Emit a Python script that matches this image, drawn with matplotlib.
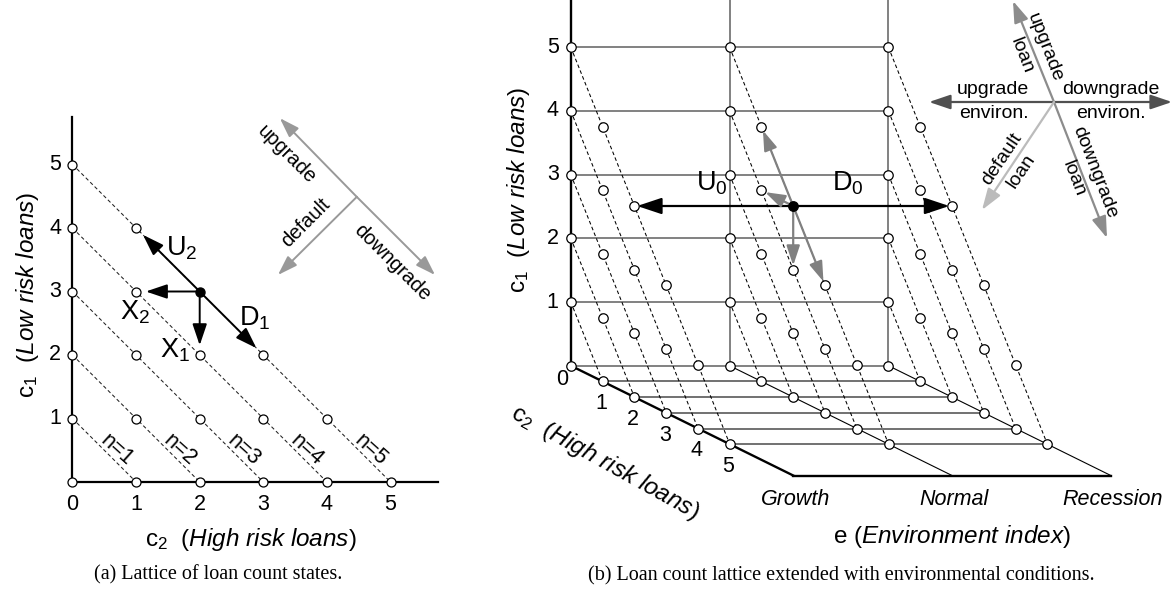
import matplotlib
matplotlib.use('Agg')
import matplotlib.pyplot as plt

plt.rcParams['font.family'] = ['Liberation Sans', 'DejaVu Sans']
plt.rcParams['mathtext.fontset'] = 'custom'
plt.rcParams['mathtext.rm'] = 'Liberation Sans'
plt.rcParams['mathtext.it'] = 'Liberation Sans:italic'
plt.rcParams['mathtext.bf'] = 'Liberation Sans:bold'

# ---- data ----
counts = [0, 1, 2, 3, 4, 5]        # loan counts shown on the c1 / c2 axes
totals = [1, 2, 3, 4, 5]           # n = c1 + c2 (diagonals)
envs = ['Growth', 'Normal', 'Recession']
env_idx = [0, 1, 2]
n_max = 5
# states (c2, c1) of the lattice: c1 + c2 <= 5
states = [(c2, c1) for c2 in counts for c1 in counts if c1 + c2 <= n_max]

cur_a = (2, 3)                     # (c2, c1)
moves_a = ['U$_2$', 'D$_1$', 'X$_2$', 'X$_1$']
targets_a = [(1, 4), (3, 2), (1, 3), (2, 2)]

cur_b = (1, 2, 3)                  # (e, c2, c1)
moves_b = ['U$_0$', 'D$_0$']
targets_b = [(0, 2, 3), (2, 2, 3)]
loan_targets_b = [(1, 1, 4), (1, 3, 2), (1, 1, 3), (1, 2, 2)]

W, H = 1173, 592
fig = plt.figure(figsize=(W / 100, H / 100), dpi=100)

GRAY = '#6c6c6c'
dash = (0, (3.5, 2.5))

def head(l, w):
    return '-|>,head_length=%s,head_width=%s' % (l, w)

# =============== (a) ===============
ax = fig.add_axes([0, 0, 0.5, 1])
ox, oy, sx, sy = 72.5, 482, 63.6, 63.5     # pixel origin / scale
ax.set_xlim(-ox / sx, (W / 2 - ox) / sx)
ax.set_ylim((oy - H) / sy, oy / sy)
ax.axis('off')

ax.plot([0, 0], [0, 5.75], color='k', lw=1.6, zorder=2)
ax.plot([0, 5.75], [0, 0], color='k', lw=1.6, zorder=2)
for n in totals:
    ax.plot([0, n], [n, 0], color='#222222', lw=0.75, ls=dash, zorder=1)
    ax.text(n - 0.31, 0.5, 'n=%d' % n, fontsize=15.5, rotation=-42,
            ha='center', va='center', rotation_mode='anchor')
for c2, c1 in states:
    if (c2, c1) == cur_a:
        continue
    ax.plot(c2, c1, 'o', ms=6.5, mfc='white', mec='k', mew=0.9, zorder=4)
ax.plot(*cur_a, 'o', ms=6.5, color='k', zorder=5)

lab_off_a = [(-0.28, 0.68), (0.87, -0.42), (-1.02, -0.32), (-0.38, -0.93)]
for lab, tgt, off in zip(moves_a, targets_a, lab_off_a):
    ax.annotate('', xy=tgt, xytext=cur_a,
                arrowprops=dict(arrowstyle=head(0.65, 0.22), color='k', lw=1.4,
                                shrinkA=0, shrinkB=7, mutation_scale=20), zorder=3)
    ax.text(cur_a[0] + off[0], cur_a[1] + off[1], lab, fontsize=19.5,
            ha='center', va='center')

for v in counts:
    ax.text(v, -0.36, str(v), fontsize=15.5, ha='center', va='center')
    if v > 0:
        ax.text(-0.27, v, str(v), fontsize=15.5, ha='center', va='center')
ax.text(-0.70, 2.94, r'c$_1$  ($\mathit{Low\ risk\ loans}$)', fontsize=17.5,
        rotation=90, ha='center', va='center')
ax.text(2.80, -0.91, r'c$_2$  ($\mathit{High\ risk\ loans}$)', fontsize=17.5,
        ha='center', va='center')
ax.text(2.29, -1.46, '(a) Lattice of loan count states.', fontsize=14.5,
        family='Liberation Serif', ha='center', va='center')

# compass (a)
cgray = '#999999'
jc = (4.47, 4.49)
for tip in [(3.26, 5.73), (5.70, 3.26), (3.23, 3.26)]:
    ax.annotate('', xy=tip, xytext=jc,
                arrowprops=dict(arrowstyle=head(0.6, 0.2), color=cgray, lw=1.4,
                                shrinkA=0, shrinkB=0, mutation_scale=20))
ax.text(3.37, 5.16, 'upgrade', fontsize=14.5, rotation=-45, ha='center', va='center')
ax.text(5.02, 3.45, 'downgrade', fontsize=14.5, rotation=-45, ha='center', va='center')
ax.text(3.66, 4.08, 'default', fontsize=14.5, rotation=45, ha='center', va='center')

# =============== (b) ===============
bx = fig.add_axes([0, 0, 1, 1])
bx.set_xlim(0, W)
bx.set_ylim(H, 0)
bx.axis('off')
bx.patch.set_alpha(0)

def proj(e, c2, c1):
    # oblique projection of (environment, c2, c1) onto the page
    return 570.8 + 158.8 * e + 31.8 * c2, 365.7 - 63.7 * c1 + 15.7 * c2

def seg(p, q, **kw):
    (x0, y0), (x1, y1) = proj(*p), proj(*q)
    bx.plot([x0, x1], [y0, y1], **kw)

top = 365.7 / 63.7
depth = 7
for e in env_idx:
    if e == 0:
        seg((e, 0, 0), (e, 0, top), color='k', lw=1.7, zorder=2)
        seg((e, 0, 0), (e, depth, 0), color='k', lw=1.7, zorder=2)
    else:
        seg((e, 0, 0), (e, 0, top), color=GRAY, lw=1.2, zorder=1)
        seg((e, 0, 0), (e, depth, 0), color='k', lw=0.8, zorder=1)
for c1 in counts:
    seg((0, 0, c1), (2, 0, c1), color=GRAY, lw=1.2, zorder=1)
for c2 in counts[1:]:
    seg((0, c2, 0), (2, c2, 0), color='#4a4a4a', lw=1.1, zorder=1)
seg((0, depth, 0), (2, depth, 0), color='k', lw=1.7, zorder=2)

for e in env_idx:
    for n in totals:
        seg((e, 0, n), (e, n, 0), color='k', lw=0.75, ls=dash, zorder=1)
    for c2, c1 in states:
        if (e, c2, c1) == cur_b:
            continue
        x, y = proj(e, c2, c1)
        bx.plot(x, y, 'o', ms=6.8, mfc='white', mec='k', mew=0.9, zorder=4)
bx.plot(*proj(*cur_b), 'o', ms=6.8, color='k', zorder=6)

for tgt in targets_b:
    bx.annotate('', xy=proj(*tgt), xytext=proj(*cur_b),
                arrowprops=dict(arrowstyle=head(0.75, 0.25), color='k', lw=1.6,
                                shrinkA=0, shrinkB=2, mutation_scale=20), zorder=5)
for tgt in loan_targets_b:
    bx.annotate('', xy=proj(*tgt), xytext=proj(*cur_b),
                arrowprops=dict(arrowstyle=head(0.6, 0.2), color='#808080', lw=1.6,
                                shrinkA=0, shrinkB=3, mutation_scale=20), zorder=5)
bx.text(712, 183, moves_b[0], fontsize=19.5, ha='center', va='center')
bx.text(848, 183, moves_b[1], fontsize=19.5, ha='center', va='center')

# ticks (b)
for v in counts[1:]:
    x, y = proj(0, 0, v)
    bx.text(x - 18, y, str(v), fontsize=15.5, ha='center', va='center')
for v in counts:
    x, y = proj(0, v, 0)
    if v == 0:
        bx.text(x - 9, y + 14, '0', fontsize=15.5, ha='center', va='center')
    else:
        bx.text(x - 1.5, y + 22.5, str(v), fontsize=15.5, ha='center', va='center')
for e, name in zip(env_idx, envs):
    x, y = proj(e, depth, 0)
    bx.text(x + 2, y + 24, name, fontsize=15.5, style='italic',
            ha='center', va='center')

bx.text(518, 190, r'c$_1$  ($\mathit{Low\ risk\ loans}$)', fontsize=17.5,
        rotation=90, ha='center', va='center')
bx.text(605, 462, r'c$_2$  ($\mathit{High\ risk\ loans}$)', fontsize=17.5,
        rotation=-29, ha='center', va='center', rotation_mode='anchor')
bx.text(952, 537, r'e ($\mathit{Environment\ index}$)', fontsize=17.5,
        ha='center', va='center')
bx.text(841, 576, '(b) Loan count lattice extended with environmental conditions.',
        fontsize=14.5, family='Liberation Serif', ha='center', va='center')

# compass (b)
cb = (1054, 102)
for tip, col in [((929, 102), '#505050'), ((1172, 102), '#505050'),
                 ((1013, 1), '#8c8c8c'), ((1107, 238), '#8c8c8c'),
                 ((982, 210), '#bbbbbb')]:
    bx.annotate('', xy=tip, xytext=cb,
                arrowprops=dict(arrowstyle=head(0.65, 0.22), color=col, lw=1.6,
                                shrinkA=0, shrinkB=0, mutation_scale=20))
bx.text(992.5, 89, 'upgrade', fontsize=14, ha='center', va='center')
bx.text(993.5, 114, 'environ.', fontsize=14, ha='center', va='center')
bx.text(1110.5, 89, 'downgrade', fontsize=14, ha='center', va='center')
bx.text(1111, 114, 'environ.', fontsize=14, ha='center', va='center')
bx.text(1045, 48, 'upgrade', fontsize=14, rotation=-68.8, ha='center', va='center')
bx.text(1022, 56, 'loan', fontsize=14, rotation=-68.8, ha='center', va='center')
bx.text(1095, 172, 'downgrade', fontsize=14, rotation=-68.8, ha='center', va='center')
bx.text(1074, 179, 'loan', fontsize=14, rotation=-68.8, ha='center', va='center')
bx.text(1002, 159, 'default', fontsize=14, rotation=56, ha='center', va='center')
bx.text(1021, 171, 'loan', fontsize=14, rotation=56, ha='center', va='center')

fig.savefig('out.png', dpi=100)
